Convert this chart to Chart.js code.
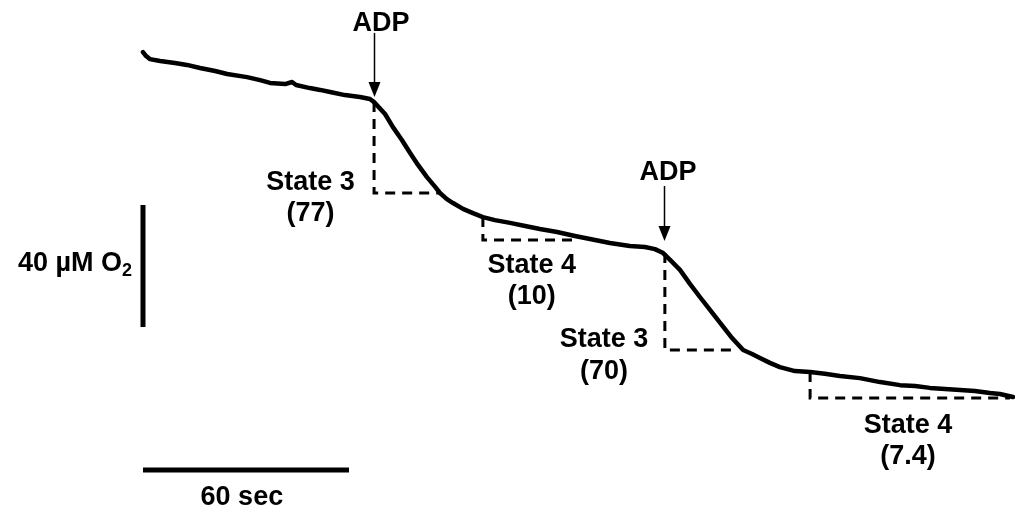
<!DOCTYPE html>
<html>
<head>
<meta charset="utf-8">
<script src="https://cdn.jsdelivr.net/npm/chart.js@4.4.1/dist/chart.umd.min.js"></script>
<style>
	body { margin: 0; background: #fff; }
	#wrap { width: 1015px; height: 510px; position: relative; }
</style>
</head>
<body>
<div id="wrap"><canvas id="oxygraph"></canvas></div>
<script>
//data: time (sec) and O2 (uM)//////////////////////////////////////////////////
var timeSec = [0, 0.9, 2.0, 5.0, 9.3, 12.8, 16.6, 21.0, 24.5, 30.3, 34.1, 37.0, 41.4, 43.4, 44.6,
	48.6, 51.6, 54.5, 58.8, 63.2, 66.1, 67.3, 70.5, 72.8, 75.4, 77.8, 80.1, 82.7, 85.1, 86.5,
	88.5, 90.3, 93.2, 96.1, 99.0, 102.5, 106.9, 111.3, 115.6, 120.6, 125.8, 130.2, 136.0, 141.8,
	146.2, 149.1, 151.5, 154.1, 156.4, 159.3, 162.2, 165.2, 168.1, 171.3, 174.8, 177.4, 179.7,
	182.6, 185.5, 189.9, 194.3, 198.6, 203.0, 208.8, 214.7, 220.5, 224.9, 229.2, 233.6, 238.0,
	242.3, 246.7, 249.6, 253.4];
var oxygen = [250.3, 249.0, 248.0, 247.4, 246.7, 246.1, 245.1, 244.1, 243.1, 242.1, 241.1, 240.2, 239.8, 240.5, 239.5,
	238.5, 237.9, 237.2, 236.2, 235.6, 234.9, 233.9, 230.0, 225.7, 221.5, 217.2, 213.3, 209.3, 206.1, 204.1,
	202.1, 200.8, 198.9, 197.5, 196.2, 195.2, 194.3, 193.3, 192.3, 191.3, 190.0, 189.0, 187.7, 186.7,
	186.4, 185.7, 184.4, 181.5, 178.9, 174.3, 170.0, 165.7, 161.5, 156.9, 152.6, 151.3, 150.0,
	148.4, 147.0, 145.7, 145.4, 144.8, 144.1, 143.4, 142.1, 141.1, 140.8, 140.2, 139.8, 139.5,
	139.2, 138.5, 138.2, 137.2];

//rate boxes: [start time, end time, O2 at start, O2 at end]
var stateNames = ['State 3', 'State 4', 'State 3', 'State 4'];
var stateRates = ['(77)', '(10)', '(70)', '(7.4)'];
var stateBoxes = [
	[67.3, 86.5, 233.9, 204.1],
	[99.0, 126.7, 196.2, 188.7],
	[152.0, 173.0, 184.4, 152.6],
	[194.3, 252.5, 145.4, 136.9]
];
//ADP additions (time)
var adpTimes = [67.3, 151.7];

//scale bars
var barTime = 60;   // sec
var barOxygen = 40; // uM

//build datasets//////////////////////////////////////////////////////////////////////////////////
var tracePoints = [];
for (var i = 0; i < timeSec.length; i++) {
	tracePoints.push({x: timeSec[i], y: oxygen[i]});
}

var datasets = [{
	data: tracePoints,
	borderColor: '#000',
	borderWidth: 4.5,
	borderJoinStyle: 'round',
	borderCapStyle: 'round',
	pointRadius: 0,
	tension: 0
}];

for (var s = 0; s < stateBoxes.length; s++) {
	var b = stateBoxes[s];
	datasets.push({
		data: [{x: b[0], y: b[2]}, {x: b[0], y: b[3]}, {x: b[1], y: b[3]}],
		borderColor: '#000',
		borderWidth: 3,
		borderDash: [10, 7],
		pointRadius: 0,
		tension: 0
	});
}

//vertical bar (40 uM) and horizontal bar (60 sec)
datasets.push({
	data: [{x: 0, y: 200.2}, {x: 0, y: 200.2 - barOxygen}],
	borderColor: '#000', borderWidth: 5, borderCapStyle: 'butt', pointRadius: 0
});
datasets.push({
	data: [{x: 0, y: 113.3}, {x: barTime, y: 113.3}],
	borderColor: '#000', borderWidth: 5, borderCapStyle: 'butt', pointRadius: 0
});

//labels + arrows plugin////////////////////////////////////////////////////////////////////////////
var labelSpots = [
	[48.8, 207.6, 197.5],
	[113.2, 180.2, 170.0],
	[134.3, 155.9, 145.4],
	[222.8, 128.0, 117.6]
];
var adpSpots = [
	[69.3, 259.8, 256.6, 235.6],
	[152.9, 210.7, 206.4, 188.4]
];

var annotations = {
	id: 'annotations',
	afterDatasetsDraw: function(chart) {
		var ctx = chart.ctx;
		var xs = chart.scales.x;
		var ys = chart.scales.y;
		var font = 'bold 27px "Liberation Sans", Arial, sans-serif';
		ctx.save();
		ctx.fillStyle = '#000';
		ctx.strokeStyle = '#000';
		ctx.font = font;
		ctx.textAlign = 'center';
		ctx.textBaseline = 'middle';

		for (var i = 0; i < stateNames.length; i++) {
			var p = labelSpots[i];
			ctx.fillText(stateNames[i], xs.getPixelForValue(p[0]), ys.getPixelForValue(p[1]));
			ctx.fillText(stateRates[i], xs.getPixelForValue(p[0]), ys.getPixelForValue(p[2]));
		}

		for (var a = 0; a < adpTimes.length; a++) {
			var q = adpSpots[a];
			ctx.fillText('ADP', xs.getPixelForValue(q[0]), ys.getPixelForValue(q[1]));
			var ax = Math.round(xs.getPixelForValue(adpTimes[a])) + 0.5;
			var y0 = ys.getPixelForValue(q[2]);
			var y1 = ys.getPixelForValue(q[3]);
			ctx.lineWidth = 1.5;
			ctx.beginPath();
			ctx.moveTo(ax, y0);
			ctx.lineTo(ax, y1 - 12);
			ctx.stroke();
			ctx.beginPath();
			ctx.moveTo(ax - 6, y1 - 15);
			ctx.lineTo(ax + 6, y1 - 15);
			ctx.lineTo(ax, y1);
			ctx.closePath();
			ctx.fill();
		}

		//60 sec
		ctx.fillText(barTime + ' sec', xs.getPixelForValue(barTime / 2 - 1.2), ys.getPixelForValue(104.4));

		//40 uM O2 with subscript
		var right = xs.getPixelForValue(-3.2);
		var mid = ys.getPixelForValue(181.1);
		ctx.textAlign = 'right';
		ctx.font = 'bold 18px "Liberation Sans", Arial, sans-serif';
		var subW = ctx.measureText('2').width;
		ctx.fillText('2', right, mid + 8);
		ctx.font = font;
		ctx.fillText(barOxygen + ' \u00B5M O', right - subW, mid);
		ctx.restore();
	}
};

var ctxO2 = document.getElementById('oxygraph').getContext('2d');
var oxygraph = new Chart(ctxO2, {
	type: 'line',
	data: { datasets: datasets },
	options: {
		animation: false,
		responsive: true,
		maintainAspectRatio: false,
		layout: { padding: 0 },
		plugins: {
			legend: { display: false },
			tooltip: { enabled: false }
		},
		scales: {
			x: { type: 'linear', display: false, min: -41.65, max: 253.98 },
			y: { type: 'linear', display: false, min: 100.16, max: 267.38 }
		}
	},
	plugins: [annotations]
});
//end chart/////////////////////////////////////////////////////////////////////////////////////////
</script>
</body>
</html>
